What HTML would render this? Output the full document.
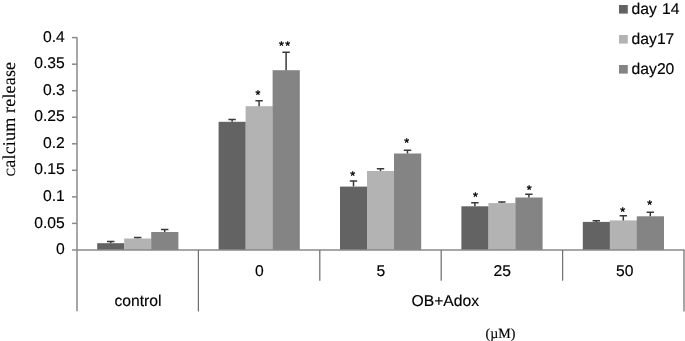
<!DOCTYPE html>
<html><head><meta charset="utf-8"><title>chart</title>
<style>html,body{margin:0;padding:0;background:#fff}svg{display:block}text{text-rendering:geometricPrecision;font-family:"Liberation Sans",sans-serif;font-size:15.7px;fill:#000;stroke:#000;stroke-width:0.15px}.s{font-family:"Liberation Serif",serif}</style></head><body>
<svg width="685" height="341" viewBox="0 0 685 341">
<rect width="685" height="341" fill="#fff"/>
<rect x="97.2" y="243.2" width="27.2" height="6.8" fill="#636363"/>
<rect x="124.2" y="238.5" width="27.2" height="11.5" fill="#b3b3b3"/>
<rect x="151.2" y="232.0" width="27.2" height="18.0" fill="#848484"/>
<rect x="218.6" y="121.8" width="27.2" height="128.2" fill="#636363"/>
<rect x="245.6" y="106.2" width="27.2" height="143.8" fill="#b3b3b3"/>
<rect x="272.6" y="70.2" width="27.2" height="179.8" fill="#848484"/>
<rect x="340.0" y="186.6" width="27.2" height="63.4" fill="#636363"/>
<rect x="367.0" y="171.0" width="27.2" height="79.0" fill="#b3b3b3"/>
<rect x="394.0" y="153.5" width="27.2" height="96.5" fill="#848484"/>
<rect x="461.4" y="206.3" width="27.2" height="43.7" fill="#636363"/>
<rect x="488.4" y="203.1" width="27.2" height="46.9" fill="#b3b3b3"/>
<rect x="515.4" y="197.5" width="27.2" height="52.5" fill="#848484"/>
<rect x="582.8" y="221.9" width="27.2" height="28.1" fill="#636363"/>
<rect x="609.8" y="220.4" width="27.2" height="29.6" fill="#b3b3b3"/>
<rect x="636.8" y="216.3" width="27.2" height="33.7" fill="#848484"/>
<path d="M110.7 243.2V241.4M107.0 241.4H114.4" stroke="#3a3a3a" stroke-width="1.5" fill="none"/>
<path d="M137.7 238.5V237.5M134.0 237.5H141.4" stroke="#3a3a3a" stroke-width="1.5" fill="none"/>
<path d="M164.7 232.0V229.5M161.0 229.5H168.4" stroke="#3a3a3a" stroke-width="1.5" fill="none"/>
<path d="M232.1 121.8V119.4M228.4 119.4H235.8" stroke="#3a3a3a" stroke-width="1.5" fill="none"/>
<path d="M259.1 106.2V100.7M255.4 100.7H262.8" stroke="#3a3a3a" stroke-width="1.5" fill="none"/>
<path d="M286.1 70.2V52.2M282.4 52.2H289.8" stroke="#3a3a3a" stroke-width="1.5" fill="none"/>
<path d="M353.5 186.6V181.0M349.8 181.0H357.2" stroke="#3a3a3a" stroke-width="1.5" fill="none"/>
<path d="M380.5 171.0V168.7M376.8 168.7H384.2" stroke="#3a3a3a" stroke-width="1.5" fill="none"/>
<path d="M407.5 153.5V150.2M403.8 150.2H411.2" stroke="#3a3a3a" stroke-width="1.5" fill="none"/>
<path d="M474.9 206.3V202.8M471.2 202.8H478.6" stroke="#3a3a3a" stroke-width="1.5" fill="none"/>
<path d="M501.9 203.1V201.9M498.2 201.9H505.6" stroke="#3a3a3a" stroke-width="1.5" fill="none"/>
<path d="M528.9 197.5V194.3M525.2 194.3H532.6" stroke="#3a3a3a" stroke-width="1.5" fill="none"/>
<path d="M596.3 221.9V220.7M592.6 220.7H600.0" stroke="#3a3a3a" stroke-width="1.5" fill="none"/>
<path d="M623.3 220.4V215.7M619.6 215.7H627.0" stroke="#3a3a3a" stroke-width="1.5" fill="none"/>
<path d="M650.3 216.3V212.2M646.6 212.2H654.0" stroke="#3a3a3a" stroke-width="1.5" fill="none"/>
<g stroke="#8a8a8a" stroke-width="1.5" fill="none">
<path d="M77 37.3V311.3"/>
<path d="M72 250.0H684.5"/>
<path d="M72 223.4H77"/>
<path d="M72 196.9H77"/>
<path d="M72 170.3H77"/>
<path d="M72 143.8H77"/>
<path d="M72 117.2H77"/>
<path d="M72 90.7H77"/>
<path d="M72 64.2H77"/>
<path d="M72 37.6H77"/>
<path d="M198.4 250.0V311.5" stroke="#707070" stroke-width="1.25"/>
<path d="M319.8 250.0V280.7" stroke="#707070" stroke-width="1.25"/>
<path d="M441.2 250.0V280.7" stroke="#707070" stroke-width="1.25"/>
<path d="M562.6 250.0V280.7" stroke="#707070" stroke-width="1.25"/>
<path d="M684.0 250.0V311.5" stroke="#707070" stroke-width="1.25"/>
</g>
<text x="64.8" y="254.1" text-anchor="end">0</text>
<text x="64.8" y="227.5" text-anchor="end">0.05</text>
<text x="64.8" y="201.0" text-anchor="end">0.1</text>
<text x="64.8" y="174.4" text-anchor="end">0.15</text>
<text x="64.8" y="147.9" text-anchor="end">0.2</text>
<text x="64.8" y="121.3" text-anchor="end">0.25</text>
<text x="64.8" y="94.8" text-anchor="end">0.3</text>
<text x="64.8" y="68.2" text-anchor="end">0.35</text>
<text x="64.8" y="41.7" text-anchor="end">0.4</text>
<text x="259.4" y="275.6" text-anchor="middle">0</text>
<text x="380.8" y="275.6" text-anchor="middle">5</text>
<text x="502.2" y="275.6" text-anchor="middle">25</text>
<text x="624.7" y="275.6" text-anchor="middle">50</text>
<text x="138" y="305.8" text-anchor="middle">control</text>
<text x="445.3" y="305.6" text-anchor="middle">OB+Adox</text>
<text class="s" x="500.5" y="338.1" text-anchor="middle" style="font-size:14px">(µM)</text>
<text class="s" transform="translate(14.8 176.2) rotate(-90)" style="font-size:18px;letter-spacing:0.18px"><tspan style="font-size:12.5px">C</tspan>alcium release</text>
<rect x="619" y="5" width="8.8" height="8.6" fill="#636363"/>
<text x="631.6" y="14.3" style="word-spacing:0.8px">day 14</text>
<rect x="619" y="35" width="8.8" height="8.6" fill="#b3b3b3"/>
<text x="631.6" y="44.3" style="word-spacing:0.8px">day17</text>
<rect x="619" y="65" width="8.8" height="8.6" fill="#848484"/>
<text x="631.6" y="74.3" style="word-spacing:0.8px">day20</text>
<text x="258.7" y="98.6" text-anchor="middle" style="font-size:12.5px;letter-spacing:1.4px;stroke-width:0.4px">*</text>
<text x="285.2" y="49.6" text-anchor="middle" style="font-size:12.5px;letter-spacing:1.4px;stroke-width:0.4px">**</text>
<text x="353.5" y="179.6" text-anchor="middle" style="font-size:12.5px;letter-spacing:1.4px;stroke-width:0.4px">*</text>
<text x="407.5" y="146.7" text-anchor="middle" style="font-size:12.5px;letter-spacing:1.4px;stroke-width:0.4px">*</text>
<text x="476.2" y="200.8" text-anchor="middle" style="font-size:12.5px;letter-spacing:1.4px;stroke-width:0.4px">*</text>
<text x="529.8000000000001" y="193.8" text-anchor="middle" style="font-size:12.5px;letter-spacing:1.4px;stroke-width:0.4px">*</text>
<text x="623.5" y="216.1" text-anchor="middle" style="font-size:12.5px;letter-spacing:1.4px;stroke-width:0.4px">*</text>
<text x="650.5" y="208.7" text-anchor="middle" style="font-size:12.5px;letter-spacing:1.4px;stroke-width:0.4px">*</text>
</svg></body></html>
